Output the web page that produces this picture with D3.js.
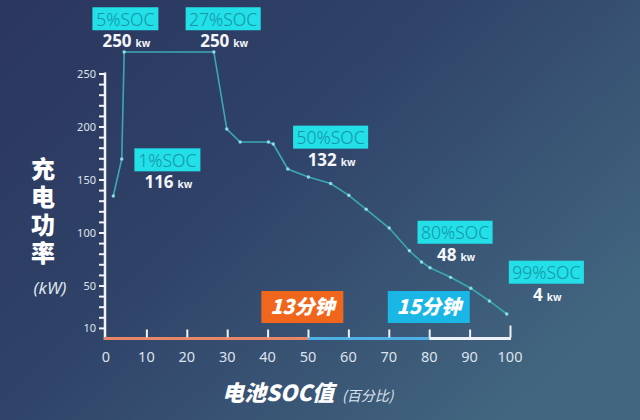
<!DOCTYPE html>
<html><head><meta charset="utf-8">
<script src="https://cdn.jsdelivr.net/npm/d3@7"></script>
<style>html,body{margin:0;padding:0;background:#2e3b62;}svg{display:block;}</style>
</head><body>
<svg id="chart" width="640" height="420"></svg>
<script>
// ---- data ----
const socValues   = [1.8, 3.9, 4.5, 26.7, 29.9, 33.2, 40.2, 41.4, 45.0, 50.1, 55.6, 60.1, 64.4, 70.1, 75.1, 78.1, 80.2, 85.3, 90.3, 94.9, 99.2];
const powerValues = [134.4, 169.3, 270.3, 270.3, 197.6, 185.4, 185.4, 183.5, 159.9, 152.4, 146.2, 135.1, 121.9, 104.2, 82.8, 72.2, 66.8, 57.7, 47.4, 35.4, 23.1];
const xTickValues = [0, 10, 20, 30, 40, 50, 60, 70, 80, 90, 100];
const yTickLabels = [10, 50, 100, 150, 200, 250];
const annoSocText   = ["5%SOC", "27%SOC", "1%SOC", "50%SOC", "80%SOC", "99%SOC"];
const annoPowerNum  = ["250", "250", "116", "132", "48", "4"];
const segmentStarts = [0, 50, 80];
const segmentEnds   = [50, 80, 100];
const durationText  = ["13分钟", "15分钟"];

// ---- layout (not data) ----
const annoAnchor = [[4.8, 312.5], [29.0, 312.5], [15.2, 179.4], [55.6, 200.8], [86.4, 111.1], [109.0, 73.4]];
const durAnchor = [[48.6, 44.8], [79.9, 44.8]];
const segColors = ["#e8866a", "#4fb0e6", "#eef1f5"];
const durColors = ["#f0661c", "#1ab6e6"];

const svg = d3.select("#chart");
const defs = svg.append("defs");
const grad = defs.append("linearGradient").attr("id","bg").attr("x1","0").attr("y1","0").attr("x2","1").attr("y2","0.7");
grad.append("stop").attr("offset","0").attr("stop-color","#2b365f");
grad.append("stop").attr("offset","0.45").attr("stop-color","#2f4268");
grad.append("stop").attr("offset","1").attr("stop-color","#426680");
svg.append("rect").attr("width",640).attr("height",420).attr("fill","url(#bg)");

const x = d3.scaleLinear().domain([0,100]).range([106,510]);
const y = d3.scaleLinear().domain([0,250]).range([338.5,73.5]);

// y axis
const yAxis = d3.axisLeft(y).tickValues(d3.range(10,251,10)).tickSize(6)
  .tickFormat(d => yTickLabels.includes(d) ? d : "");
const gy = svg.append("g").attr("transform",`translate(${x(0)-1},0)`).call(yAxis);
gy.select(".domain").remove();
gy.selectAll(".tick line").attr("stroke","#f2f4f8").attr("stroke-width",2);
gy.selectAll(".tick text").attr("fill","#dfe4ee").attr("font-size",11).attr("font-family","Noto Sans").attr("x",-9);
svg.append("line").attr("x1",x(0)-1).attr("x2",x(0)-1).attr("y1",y(250)-1).attr("y2",y(0)+1.5)
  .attr("stroke","#f2f4f8").attr("stroke-width",2.5);

// x axis colored segments
segmentStarts.forEach((s,i)=>{
  svg.append("line").attr("x1",x(s)-(i===0?2:0)).attr("x2",x(segmentEnds[i])+(i===2?1:0))
    .attr("y1",y(0)).attr("y2",y(0)).attr("stroke",segColors[i]).attr("stroke-width",3);
});
const xAxis = d3.axisTop(x).tickValues(xTickValues.filter(d=>d>0)).tickSize(8).tickFormat("");
const gx = svg.append("g").attr("transform",`translate(0,${y(0)-1})`).call(xAxis);
gx.select(".domain").remove();
gx.selectAll(".tick line").attr("stroke","#eef1f5").attr("stroke-width",2)
  .attr("y2", d => d===100 ? -12 : -8);
svg.append("g").selectAll("text").data(xTickValues).join("text")
  .attr("x",d=>x(d)).attr("y",362).attr("text-anchor","middle")
  .attr("fill","#dde3ec").attr("font-size",14.5).attr("font-family","Noto Sans").text(d=>d);

// line
const pts = socValues.map((s,i)=>[s,powerValues[i]]);
svg.append("path").datum(pts)
  .attr("d", d3.line().x(d=>x(d[0])).y(d=>y(d[1])))
  .attr("fill","none").attr("stroke","#3aa9b3").attr("stroke-width",1.6);
svg.append("g").selectAll("circle").data(pts).join("circle")
  .attr("cx",d=>x(d[0])).attr("cy",d=>y(d[1])).attr("r",1.7).attr("fill","#8fdde4");

// annotations
annoSocText.forEach((t,i)=>{
  const cx = x(annoAnchor[i][0]), top = y(annoAnchor[i][1]);
  const g = svg.append("g");
  const rect = g.append("rect").attr("fill","#22dfe8");
  const txt = g.append("text").attr("x",cx).attr("y",top+18.5).attr("text-anchor","middle")
    .attr("font-family","Noto Sans").attr("font-weight",300).attr("font-size",17.5).attr("fill","#1696a6").text(t);
  const w = Math.max(txt.node().getComputedTextLength()+7, 66);
  rect.attr("x",cx-w/2).attr("y",top).attr("width",w).attr("height",23);
  const nt = g.append("text").attr("x",cx+1).attr("y",top+40).attr("text-anchor","middle")
    .attr("font-family","Noto Sans").attr("font-weight",700).attr("fill","#f4f6fa");
  nt.append("tspan").attr("font-size",17).text(annoPowerNum[i]);
  nt.append("tspan").attr("font-size",10).attr("dx",4).text("kw");
});

// duration boxes
durationText.forEach((t,i)=>{
  const cx = x(durAnchor[i][0]), top = y(durAnchor[i][1]);
  svg.append("rect").attr("x",cx-41).attr("y",top).attr("width",82).attr("height",32).attr("fill",durColors[i]);
  svg.append("text").attr("x",cx).attr("y",top+23).attr("text-anchor","middle")
    .attr("font-family","Noto Sans CJK SC").attr("font-weight",900).attr("font-style","italic")
    .attr("font-size",20).attr("fill","#ffffff").text(t);
});

// y title (vertical)
svg.append("text").attr("x",43).attr("y",157)
  .style("writing-mode","vertical-rl").style("letter-spacing","4px")
  .attr("font-family","Noto Sans CJK SC").attr("font-weight",900).attr("font-size",24)
  .attr("fill","#ffffff").text("充电功率");
svg.append("text").attr("x",50).attr("y",294).attr("text-anchor","middle")
  .attr("font-family","Noto Sans").attr("font-style","italic").attr("font-size",17)
  .attr("fill","#dfe5ee").text("(kW)");

// x title
const xt = svg.append("text").attr("x",222).attr("y",401).attr("font-family","Noto Sans CJK SC");
xt.append("tspan").attr("font-weight",900).attr("font-style","italic").attr("font-size",22).attr("fill","#ffffff").text("电池SOC值");
xt.append("tspan").attr("dx",8).attr("font-style","italic").attr("font-size",14).attr("fill","#dfe5ee").text("(百分比)");
</script>
</body></html>
